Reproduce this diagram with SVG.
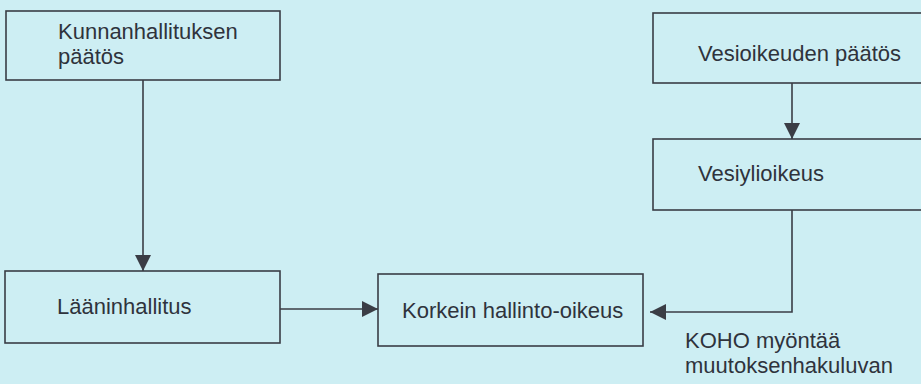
<svg xmlns="http://www.w3.org/2000/svg" width="921" height="384" viewBox="0 0 921 384">
  <defs>
    <marker id="arrow" viewBox="0 0 16 16" refX="16" refY="8" markerWidth="16" markerHeight="16" markerUnits="userSpaceOnUse" orient="auto">
      <path d="M0,0 L16,8 L0,16 Z" fill="#3a3d45"/>
    </marker>
    <style>
      .box { fill: none; stroke: #3a3d45; stroke-width: 1.6; }
      .lbl { font-family: "Liberation Sans", Arial, sans-serif; font-size: 22px; fill: #2f333c; }
      .edge { fill: none; stroke: #3a3d45; stroke-width: 1.6; }
    </style>
  </defs>

  <rect x="0" y="0" width="921" height="384" fill="#cdeef3"/>

  <g id="kunnanhallitus">
    <rect class="box" x="6" y="11" width="274" height="69"/>
    <text class="lbl" x="58" y="39">Kunnanhallituksen</text>
    <text class="lbl" x="58" y="64">päätös</text>
  </g>

  <g id="laaninhallitus">
    <rect class="box" x="5" y="271" width="275" height="72"/>
    <text class="lbl" x="57" y="314">Lääninhallitus</text>
  </g>

  <g id="kho">
    <rect class="box" x="378" y="274" width="265" height="72"/>
    <text class="lbl" x="402" y="318">Korkein hallinto-oikeus</text>
  </g>

  <g id="vesioikeus">
    <rect class="box" x="653" y="13" width="280" height="70"/>
    <text class="lbl" x="698" y="61">Vesioikeuden päätös</text>
  </g>

  <g id="vesiylioikeus">
    <rect class="box" x="653" y="139" width="280" height="71"/>
    <text class="lbl" x="698" y="181">Vesiylioikeus</text>
  </g>

  <g id="koho-label">
    <text class="lbl" x="685" y="348">KOHO myöntää</text>
    <text class="lbl" x="685" y="373">muutoksenhakuluvan</text>
  </g>

  <g id="connectors">
    <path class="edge" d="M143,80 V271" marker-end="url(#arrow)"/>
    <path class="edge" d="M280,309 H378" marker-end="url(#arrow)"/>
    <path class="edge" d="M792,83 V139" marker-end="url(#arrow)"/>
    <path class="edge" d="M792,210 V312 H650" marker-end="url(#arrow)"/>
  </g>
</svg>
